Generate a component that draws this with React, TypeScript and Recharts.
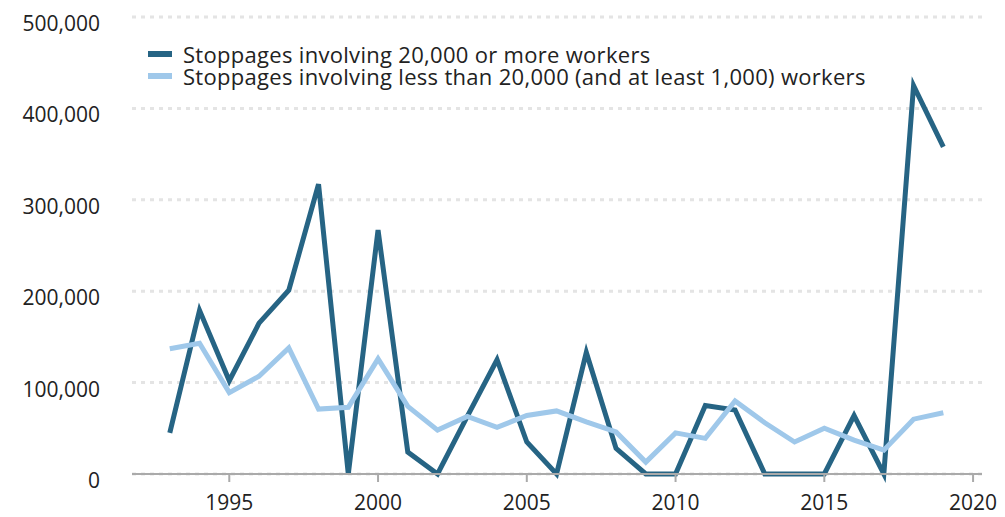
import { LineChart, Line, XAxis, YAxis, CartesianGrid, Legend } from 'recharts';

const years = [
  1993, 1994, 1995, 1996, 1997, 1998, 1999, 2000, 2001, 2002, 2003, 2004, 2005, 2006,
  2007, 2008, 2009, 2010, 2011, 2012, 2013, 2014, 2015, 2016, 2017, 2018, 2019,
];

// workers idled by stoppages of 20,000 or more
const largeStoppages = [
  45000, 179000, 102000, 165000, 201000, 317000, 0, 267000, 24000, 0, 63000, 125000, 35000, 0,
  133000, 28000, 0, 0, 75000, 70000, 0, 0, 0, 64000, 0, 425000, 358000,
];

// stoppages under 20,000 (at least 1,000)
const smallStoppages = [
  137000, 143000, 89000, 107000, 138000, 71000, 73000, 126000, 74000, 48000, 63000, 51000,
  64000, 69000, 57000, 46000, 13000, 45000, 39000, 80000, 56000, 35000, 50000, 37000, 26000,
  60000, 67000,
];

const xTicks = [1995, 2000, 2005, 2010, 2015, 2020];
const yTicks = [0, 100000, 200000, 300000, 400000, 500000];

const SERIES = [
  { key: 'large', name: 'Stoppages involving 20,000 or more workers', color: '#266484' },
  {
    key: 'small',
    name: 'Stoppages involving less than 20,000 (and at least 1,000) workers',
    color: '#9fc8ea',
  },
];

const FONT = '"Open Sans", Lato, sans-serif';

const data = years.map((year, i) => ({
  year,
  large: largeStoppages[i],
  small: smallStoppages[i],
}));

const YTick = ({ y, payload }: any) => (
  <text x={100} y={y + 14} textAnchor="end" fill="#222" fontSize={21} fontFamily={FONT}>
    {payload.value.toLocaleString('en-US')}
  </text>
);

const XTick = ({ x, y, payload }: any) => (
  <text x={x} y={y + 26} textAnchor="middle" fill="#222" fontSize={21} fontFamily={FONT}>
    {payload.value}
  </text>
);

const LegendBox = () => (
  <div
    style={{
      fontFamily: FONT,
      fontSize: 22,
      letterSpacing: 0.3,
      color: '#222',
      lineHeight: '22px',
    }}
  >
    {SERIES.map((s) => (
      <div key={s.key} style={{ display: 'flex', alignItems: 'center', height: 22 }}>
        <span
          style={{ width: 24, height: 6, background: s.color, marginRight: 11, flexShrink: 0 }}
        />
        <span style={{ whiteSpace: 'nowrap' }}>{s.name}</span>
      </div>
    ))}
  </div>
);

export default function App() {
  return (
    <div style={{ position: 'absolute', left: 0, top: 0, background: '#fff' }}>
      <LineChart
        width={1005}
        height={517}
        data={data}
        margin={{ top: 17, right: 23, left: 0, bottom: 10 }}
      >
        <CartesianGrid
          vertical={false}
          stroke="#e4e4e4"
          strokeWidth={3}
          strokeDasharray="4 5"
        />
        <XAxis
          dataKey="year"
          type="number"
          domain={[1991.73, 2020.3]}
          ticks={xTicks}
          tick={<XTick />}
          axisLine={{ stroke: '#aaa', strokeWidth: 2 }}
          tickLine={{ stroke: '#aaa', strokeWidth: 2 }}
          tickSize={8}
          height={33}
          allowDataOverflow
        />
        <YAxis
          domain={[0, 500000]}
          ticks={yTicks}
          tick={<YTick />}
          axisLine={false}
          tickLine={false}
          width={132}
        />
        <Legend
          layout="vertical"
          align="center"
          verticalAlign="middle"
          content={<LegendBox />}
          wrapperStyle={{ position: 'absolute', top: 43, left: 148, width: 'auto', height: 'auto' }}
        />
        {SERIES.map((s) => (
          <Line
            key={s.key}
            dataKey={s.key}
            name={s.name}
            stroke={s.color}
            strokeWidth={5}
            dot={false}
            isAnimationActive={false}
            strokeLinejoin="miter"
          />
        ))}
      </LineChart>
    </div>
  );
}
